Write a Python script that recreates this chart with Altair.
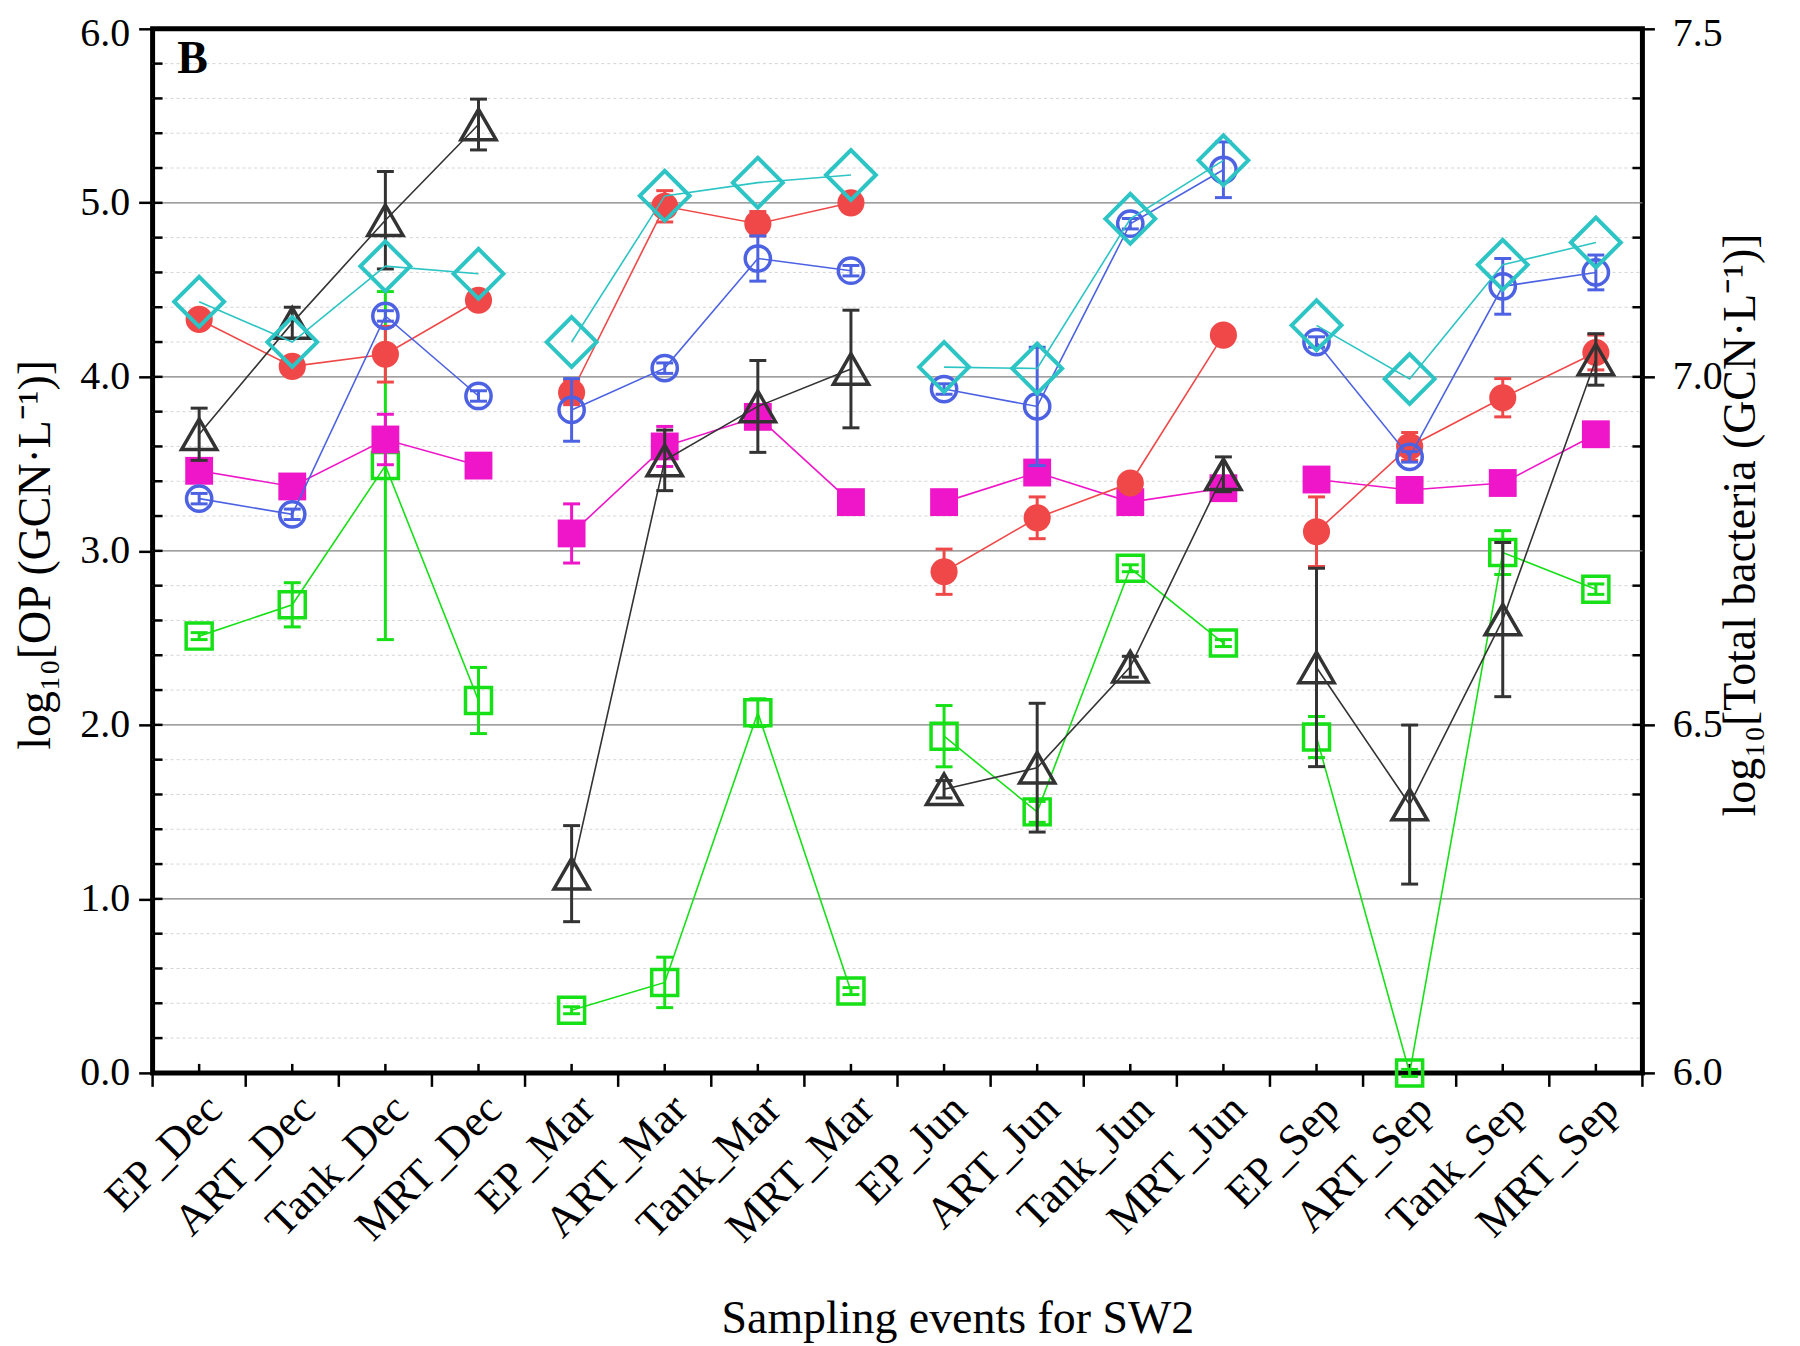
import json
import altair as alt
import pandas as pd

# ---------------- data ----------------
categories = ["EP_Dec", "ART_Dec", "Tank_Dec", "MRT_Dec",
              "EP_Mar", "ART_Mar", "Tank_Mar", "MRT_Mar",
              "EP_Jun", "ART_Jun", "Tank_Jun", "MRT_Jun",
              "EP_Sep", "ART_Sep", "Tank_Sep", "MRT_Sep"]
seasons = ["Dec"] * 4 + ["Mar"] * 4 + ["Jun"] * 4 + ["Sep"] * 4

red_vals = [4.33, 4.06, 4.13, 4.44, 3.91, 4.98, 4.88, 5.00, 2.88, 3.19, 3.39, 4.24, 3.11, 3.60, 3.88, 4.14]
red_err = [0.05, 0.03, 0.16, 0.03, 0.07, 0.09, 0.07, 0.03, 0.13, 0.12, 0.03, 0.03, 0.20, 0.08, 0.11, 0.10]

blue_vals = [3.30, 3.21, 4.35, 3.89, 3.81, 4.05, 4.68, 4.61, 3.93, 3.83, 4.88, 5.19, 4.20, 3.54, 4.52, 4.60]
blue_err = [0.03, 0.03, 0.03, 0.03, 0.18, 0.03, 0.13, 0.03, 0.03, 0.34, 0.03, 0.16, 0.03, 0.03, 0.16, 0.10]

magenta_vals = [3.46, 3.37, 3.64, 3.49, 3.10, 3.60, 3.77, 3.28, 3.28, 3.45, 3.28, 3.36, 3.41, 3.35, 3.39, 3.67]
magenta_err = [0.02, 0.02, 0.145, 0.02, 0.17, 0.115, 0.03, 0.02, 0.02, 0.02, 0.02, 0.02, 0.02, 0.02, 0.02, 0.02]

green_vals = [2.51, 2.69, 3.49, 2.14, 0.36, 0.52, 2.07, 0.47, 1.935, 1.50, 2.90, 2.47, 1.93, 0.0, 2.99, 2.78]
green_err = [0.02, 0.127, 1.0, 0.19, 0.02, 0.145, 0.08, 0.02, 0.176, 0.06, 0.02, 0.02, 0.118, 0.02, 0.126, 0.03]

black_vals = [3.67, 4.31, 4.90, 5.45, 1.145, 3.52, 3.83, 4.045, 1.63, 1.754, 2.334, 3.44, 2.33, 1.542, 2.605, 4.10]
black_err = [0.15, 0.09, 0.28, 0.146, 0.276, 0.174, 0.264, 0.338, 0.05, 0.37, 0.06, 0.10, 0.57, 0.457, 0.443, 0.148]

# total bacteria (right axis)
cyan_vals = [7.108, 7.05, 7.159, 7.148, 7.05, 7.26, 7.279, 7.29, 7.014, 7.012, 7.227, 7.311, 7.074, 6.997, 7.161, 7.193]

left_tick_values = [0.0, 1.0, 2.0, 3.0, 4.0, 5.0, 6.0]
left_minor_values = [round(0.2 * i, 1) for i in range(31)]
grid_major_values = [1.0, 2.0, 3.0, 4.0, 5.0]
grid_minor_values = [v for v in left_minor_values if abs(v - round(v)) > 1e-9]
right_tick_values = [6.0, 6.5, 7.0, 7.5]
right_minor_values = [round(6.0 + 0.1 * i, 1) for i in range(16)]

FONT = "Liberation Serif"
W, H = 1494, 1047

x_scale = alt.Scale(domain=[-0.5, 15.5], nice=False, zero=False)
yl_scale = alt.Scale(domain=[0, 6], nice=False, zero=False)
yr_scale = alt.Scale(domain=[6, 7.5], nice=False, zero=False)

X_AXIS = alt.Axis(
    values=list(range(len(categories))),
    labelExpr=json.dumps(categories) + "[datum.value]",
    labelAngle=315, ticks=False, labelPadding=14, labelOverlap=False,
    labelFlush=False, labelFontSize=44, labelLimit=600,
    title="Sampling events for SW2", grid=False,
    titleX=807, titleY=246, titleBaseline="middle", titleAlign="center")
YL_AXIS = alt.Axis(
    values=left_tick_values, format=".1f", tickSize=14, labelPadding=9, grid=False,
    labelOffset=alt.condition("datum.value == 6", alt.value(5), alt.value(0)),
    title="log\u2081\u2080[OP (GCN\u00b7L\u207b\u00b9)]",
    titleAngle=270, titleX=-117, titleY=527, titleAlign="center",
    titleBaseline="middle")
YR_AXIS = alt.Axis(
    orient="right", values=right_tick_values, format=".1f", tickSize=12, grid=False,
    labelPadding=18,
    labelOffset=alt.condition("datum.value == 7.5", alt.value(5), alt.value(0)),
    title="log\u2081\u2080[Total bacteria (GCN\u00b7L\u207b\u00b9)]",
    titleAngle=270, titleX=98, titleY=497, titleAlign="center",
    titleBaseline="middle")


def xenc(field="idx"):
    return alt.X(f"{field}:Q", scale=x_scale, axis=X_AXIS)


def yenc(field, right=False):
    if right:
        return alt.Y(f"{field}:Q", scale=yr_scale, axis=YR_AXIS)
    return alt.Y(f"{field}:Q", scale=yl_scale, axis=YL_AXIS)


def frame(vals, errs=None):
    errs = errs if errs is not None else [0] * len(vals)
    return pd.DataFrame({
        "idx": list(range(len(categories))),
        "cat": categories,
        "season": seasons,
        "v": vals,
        "lo": [v - e for v, e in zip(vals, errs)],
        "hi": [v + e for v, e in zip(vals, errs)],
    })


def series(vals, errs, color, shape, size, filled, sw, right=False):
    df = frame(vals, errs)
    base = alt.Chart(df)
    out = [base.mark_line(color=color, strokeWidth=1.6).encode(
        x=xenc(), y=yenc("v", right), detail="season:N")]
    if errs is not None:
        out.append(base.mark_rule(color=color, strokeWidth=3).encode(
            x=xenc(), y=yenc("lo", right), y2="hi:Q"))
        for col in ["lo", "hi"]:
            out.append(base.mark_tick(color=color, orient="horizontal", size=17,
                                      thickness=3, opacity=1).encode(
                x=xenc(), y=yenc(col, right)))
    out.append(base.mark_point(shape=shape, size=size, filled=filled, color=color,
                               strokeWidth=sw, opacity=1).encode(
        x=xenc(), y=yenc("v", right)))
    return out


# grid
grid_minor = alt.Chart(pd.DataFrame({"v": grid_minor_values})).mark_rule(
    color="#d4d4d4", strokeWidth=1, strokeDash=[3, 3]).encode(
    y=yenc("v"), x=alt.value(0), x2=alt.value(W))
grid_major = alt.Chart(pd.DataFrame({"v": grid_major_values})).mark_rule(
    color="#808080", strokeWidth=1.4).encode(
    y=yenc("v"), x=alt.value(0), x2=alt.value(W))

# inward minor ticks on the left axis
left_ticks = alt.Chart(pd.DataFrame({"v": left_minor_values})).mark_rule(
    color="black", strokeWidth=2.5).encode(
    y=yenc("v"), x=alt.value(0), x2=alt.value(10))

# bottom axis: inward centre ticks, outward boundary ticks
center_ticks = alt.Chart(pd.DataFrame({"idx": list(range(len(categories)))})).mark_rule(
    color="black", strokeWidth=2.5).encode(
    x=xenc(), y=alt.value(H - 9), y2=alt.value(H))
boundary_ticks = alt.Chart(pd.DataFrame({"b": [i - 0.5 for i in range(len(categories) + 1)]})).mark_rule(
    color="black", strokeWidth=2.5).encode(
    x=xenc("b"), y=alt.value(H), y2=alt.value(H + 14))

panel_label = alt.Chart(pd.DataFrame({"t": ["B"]})).mark_text(
    font=FONT, fontSize=46, fontWeight="bold", align="center", baseline="middle",
    color="black").encode(text="t:N", x=alt.value(40), y=alt.value(30))

left_layers = [grid_minor, grid_major, left_ticks, center_ticks, boundary_ticks, panel_label]
left_layers += series(green_vals, green_err, "#16E016", "square", 680, False, 3.5)
left_layers += series(magenta_vals, magenta_err, "#EE16C8", "square", 780, True, 0)
left_layers += series(red_vals, red_err, "#F04848", "circle", 740, True, 0)
left_layers += series(blue_vals, blue_err, "#4C62E2", "circle", 640, False, 3.5)
left_layers += series(black_vals, black_err, "#333333", "triangle-up", 1250, False, 3.5)
left = alt.layer(*left_layers)

right_ticks = alt.Chart(pd.DataFrame({"v": right_minor_values})).mark_rule(
    color="black", strokeWidth=2.5).encode(
    y=yenc("v", True), x=alt.value(W - 10), x2=alt.value(W))
right_layers = [right_ticks] + series(cyan_vals, None, "#2CC4C4", "diamond", 2500, False, 4, True)
right = alt.layer(*right_layers)

chart = alt.layer(left, right).resolve_scale(y="independent").properties(
    width=W, height=H,
    padding={"left": 145, "top": 19, "right": 150, "bottom": 272},
    autosize=alt.AutoSizeParams(type="none"),
).configure_view(
    stroke="black", strokeWidth=5
).configure_axis(
    labelFont=FONT, titleFont=FONT, labelFontSize=40, titleFontSize=46,
    labelColor="black", titleColor="black", titleFontWeight="normal",
    domain=False, grid=False, tickColor="black", tickWidth=2.5,
)

chart.save("out.html", embed_options={"renderer": "svg", "actions": False})
